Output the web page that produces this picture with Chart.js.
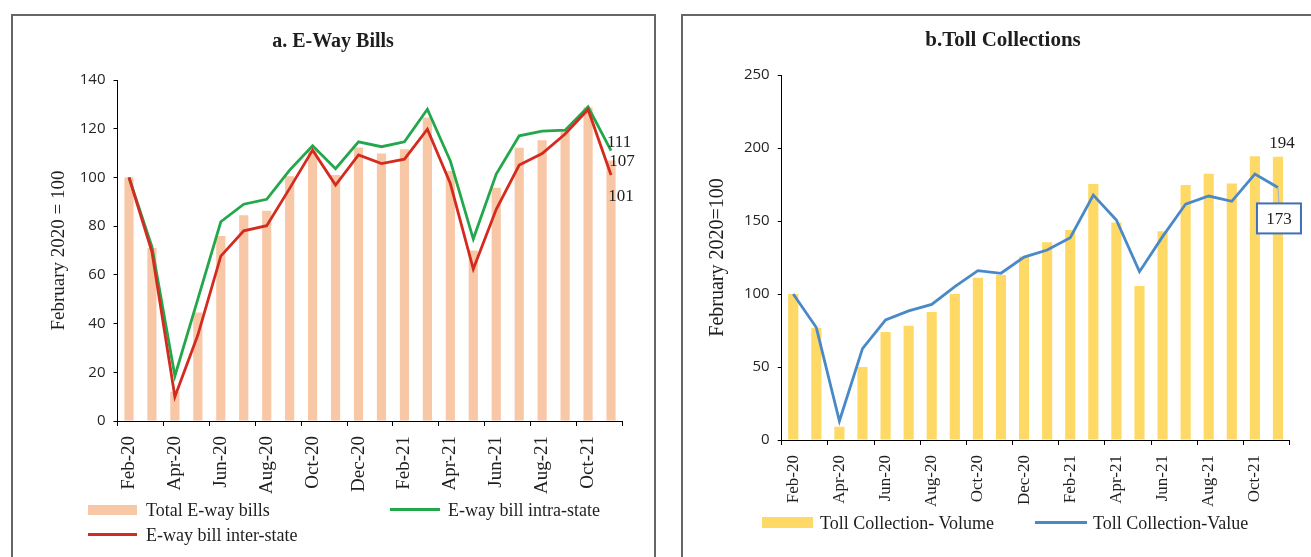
<!DOCTYPE html>
<html>
<head>
<meta charset="utf-8">
<script src="https://cdn.jsdelivr.net/npm/chart.js@4/dist/chart.umd.min.js"></script>
<style>
  html, body { margin: 0; padding: 0; background: #fff; }
  body { width: 1311px; height: 557px; overflow: hidden; position: relative;
         font-family: 'Liberation Serif', serif; color: #1e1e1e; }
  .panel { position: absolute; top: 14px; height: 560px; border: 2px solid #666;
           border-bottom: none; box-sizing: border-box; }
  #panelA { left: 11px; width: 645px; }
  #panelB { left: 681px; width: 660px; }
  canvas { position: absolute; top: 0; }
  .title { position: absolute; font-weight: bold; white-space: nowrap;
           transform: translateX(-50%); line-height: 24px; }
  .legText { position: absolute; font-size: 18px; line-height: 20px; white-space: nowrap; }
  .sw { position: absolute; }
</style>
</head>
<body>
<div class="panel" id="panelA"></div>
<div class="panel" id="panelB"></div>

<canvas id="chartA" width="660" height="557" style="left:0"></canvas>
<canvas id="chartB" width="651" height="557" style="left:660px"></canvas>

<div class="title" style="left:333px;top:28px;font-size:20px">a. E-Way Bills</div>
<div class="title" style="left:1003px;top:27px;font-size:21px">b.Toll Collections</div>

<!-- legend, panel a -->
<div class="sw" style="left:88px;top:505px;width:49px;height:10px;background:#F8C7A6"></div>
<div class="legText" style="left:146px;top:500px">Total E-way bills</div>
<div class="sw" style="left:390px;top:508px;width:50px;height:3px;background:#22A74B"></div>
<div class="legText" style="left:448px;top:500px">E-way bill intra-state</div>
<div class="sw" style="left:88px;top:533px;width:49px;height:3px;background:#D42B20"></div>
<div class="legText" style="left:146px;top:525px">E-way bill inter-state</div>

<!-- legend, panel b -->
<div class="sw" style="left:762px;top:517px;width:51px;height:11px;background:#FFD966"></div>
<div class="legText" style="left:820px;top:513px">Toll Collection- Volume</div>
<div class="sw" style="left:1035px;top:521px;width:52px;height:3px;background:#4A89C8"></div>
<div class="legText" style="left:1093px;top:513px">Toll Collection-Value</div>

<script>
// Months, February 2020 to November 2021
const months = ['Feb-20','Mar-20','Apr-20','May-20','Jun-20','Jul-20','Aug-20','Sep-20','Oct-20','Nov-20','Dec-20',
                'Jan-21','Feb-21','Mar-21','Apr-21','May-21','Jun-21','Jul-21','Aug-21','Sep-21','Oct-21','Nov-21'];

// a. E-Way Bills (February 2020 = 100)
const ewayTotal = [100, 71, 12, 44.5, 76, 84.5, 86.3, 100.5, 111, 101, 112.3,
                   109.8, 111.6, 124.6, 102.6, 70, 95.8, 112.2, 115.3, 119, 128.7, 107];
const ewayIntra = [100, 71.5, 18.5, 50, 81.8, 89, 91, 103, 113, 103.6, 114.6,
                   112.6, 114.6, 128, 106.8, 74.7, 101.4, 117.1, 119, 119.4, 129, 111];
const ewayInter = [100, 69.5, 10, 35.3, 67.7, 78.1, 80.2, 95.5, 111.2, 96.9, 109.2,
                   105.7, 107.5, 119.8, 97.5, 62.4, 86.9, 105.1, 109.8, 117.8, 127.9, 101];

// b. Toll Collections (February 2020 = 100)
const tollVolume = [100, 76.7, 9.1, 50, 74, 78.3, 87.7, 100, 111.2, 113, 125.6,
                    135.4, 143.8, 175.3, 149, 105.5, 142.9, 174.7, 182.4, 175.6, 194.3, 194];
const tollValue  = [100, 77, 13, 62.6, 82.2, 88.4, 92.9, 105, 116, 114.2, 125.3,
                    130.1, 138.6, 167.8, 150.7, 115.3, 139.3, 161.6, 167.1, 163.5, 182.2, 173];

// y-axis ticks
const ewayTicks = { min: 0, max: 140, step: 20 };
const tollTicks = { min: 0, max: 250, step: 50 };

const TEXT = '#1e1e1e';

// Writes the latest value next to the last mark of a dataset
const endLabels = {
  id: 'endLabels',
  afterDatasetsDraw(chart, args, opts) {
    const ctx = chart.ctx;
    (opts.items || []).forEach(it => {
      const meta = chart.getDatasetMeta(it.dataset);
      const el = meta.data[meta.data.length - 1];
      const values = chart.data.datasets[it.dataset].data;
      const text = String(Math.round(values[values.length - 1]));
      const x = el.x + it.dx, y = el.y + it.dy;
      ctx.save();
      ctx.font = '17px "Liberation Serif"';
      ctx.textAlign = 'center';
      ctx.textBaseline = 'middle';
      if (it.box) {
        const w = 44, h = 30;
        ctx.strokeStyle = '#A8B8CC';
        ctx.lineWidth = 1.2;
        ctx.beginPath();
        ctx.moveTo(el.x, el.y);
        ctx.lineTo(x, y - h / 2);
        ctx.stroke();
        ctx.fillStyle = '#fff';
        ctx.fillRect(x - w / 2, y - h / 2, w, h);
        ctx.strokeStyle = '#3F71B8';
        ctx.lineWidth = 2;
        ctx.strokeRect(x - w / 2, y - h / 2, w, h);
      }
      ctx.fillStyle = TEXT;
      ctx.fillText(text, x, y + 1);
      ctx.restore();
    });
  }
};

// Tick marks only at every second month boundary
const everyOther = c => (c.type !== 'tick' || c.index % 2 === 0) ? '#000' : 'rgba(0,0,0,0)';

function xScale(fontSize) {
  return {
    type: 'category',
    offset: true,
    grid: { display: true, offset: true, drawOnChartArea: false, drawTicks: true,
            tickLength: 5, color: everyOther, lineWidth: 1 },
    border: { display: true, color: '#000', width: 1 },
    ticks: {
      autoSkip: false, minRotation: 90, maxRotation: 90, padding: 10,
      color: TEXT, font: { family: 'Liberation Serif', size: fontSize },
      callback(v, i) { return i % 2 === 0 ? this.getLabelForValue(v) : ''; }
    },
    afterFit(s) { s.height = 100; }
  };
}

function yScale(t, title, titleSize, titlePad, width) {
  return {
    min: t.min, max: t.max,
    grid: { drawOnChartArea: false, drawTicks: true, tickLength: 4, color: '#000' },
    border: { display: true, color: '#000', width: 1 },
    ticks: { stepSize: t.step, padding: 8, color: '#262626',
             font: { family: 'Open Sans', size: 15 } },
    title: { display: true, text: title, color: TEXT,
             font: { family: 'Liberation Serif', size: titleSize },
             padding: { top: titlePad, bottom: 0 } },
    afterFit(s) { s.width = width; }
  };
}

const common = { responsive: false, animation: false, devicePixelRatio: 1, events: [] };

new Chart(document.getElementById('chartA'), {
  data: {
    labels: months,
    datasets: [
      { type: 'bar', label: 'Total E-way bills', data: ewayTotal, backgroundColor: '#F8C7A6',
        barPercentage: 0.4, categoryPercentage: 1, order: 3 },
      { type: 'line', label: 'E-way bill intra-state', data: ewayIntra, borderColor: '#22A74B',
        borderWidth: 2.8, pointRadius: 0, tension: 0, order: 2 },
      { type: 'line', label: 'E-way bill inter-state', data: ewayInter, borderColor: '#D42B20',
        borderWidth: 2.8, pointRadius: 0, tension: 0, order: 1 }
    ]
  },
  options: Object.assign({}, common, {
    layout: { padding: { left: 0, top: 80, right: 37.5, bottom: 36 } },
    plugins: {
      legend: { display: false }, tooltip: { enabled: false },
      endLabels: { items: [
        { dataset: 1, dx: 8, dy: -9 },
        { dataset: 0, dx: 11, dy: 0 },
        { dataset: 2, dx: 10, dy: 21 }
      ] }
    },
    scales: {
      x: xScale(19),
      y: yScale(ewayTicks, 'February 2020 = 100', 19, 48, 117.5)
    }
  }),
  plugins: [endLabels]
});

new Chart(document.getElementById('chartB'), {
  data: {
    labels: months,
    datasets: [
      { type: 'bar', label: 'Toll Collection- Volume', data: tollVolume, backgroundColor: '#FFD966',
        barPercentage: 0.44, categoryPercentage: 1, order: 2 },
      { type: 'line', label: 'Toll Collection-Value', data: tollValue, borderColor: '#4A89C8',
        borderWidth: 2.8, pointRadius: 0, tension: 0, order: 1 }
    ]
  },
  options: Object.assign({}, common, {
    layout: { padding: { left: 0, top: 75, right: 21.5, bottom: 17 } },
    plugins: {
      legend: { display: false }, tooltip: { enabled: false },
      endLabels: { items: [
        { dataset: 0, dx: 4, dy: -14 },
        { dataset: 1, dx: 1, dy: 31, box: true }
      ] }
    },
    scales: {
      x: xScale(17),
      y: yScale(tollTicks, 'February 2020=100', 20, 46, 121.7)
    }
  }),
  plugins: [endLabels]
});
</script>
</body>
</html>
